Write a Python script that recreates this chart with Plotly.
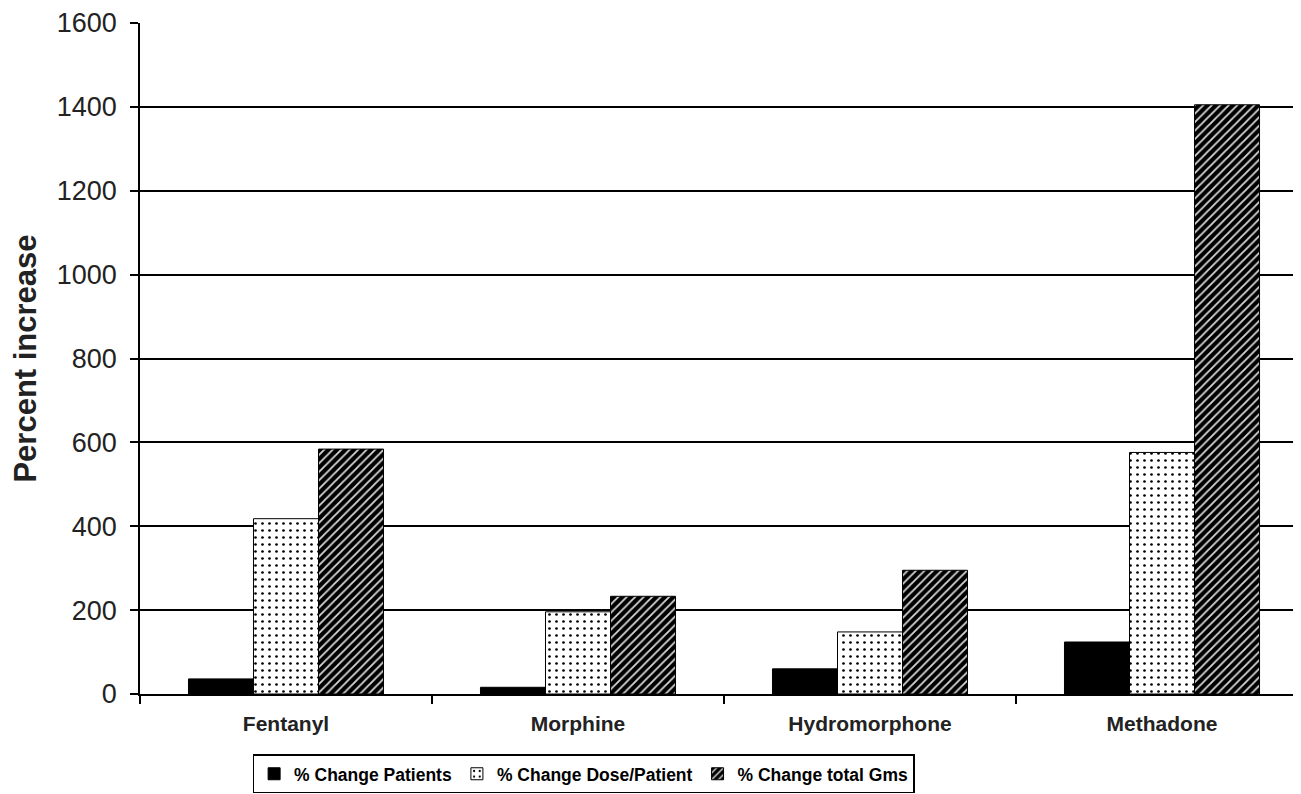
import plotly.graph_objects as go

categories = ["Fentanyl", "Morphine", "Hydromorphone", "Methadone"]
pct_change_patients = [36, 16, 60, 124]
pct_change_dose_per_patient = [418, 196, 148, 576]
pct_change_total_gms = [584, 233, 295, 1405]
y_ticks = [0, 200, 400, 600, 800, 1000, 1200, 1400, 1600]

FONT = "Liberation Sans, Arial, sans-serif"

fig = go.Figure()
fig.add_trace(go.Bar(
    name="% Change Patients", x=categories, y=pct_change_patients,
    marker=dict(color="black", line=dict(color="black", width=1)),
))
fig.add_trace(go.Bar(
    name="% Change Dose/Patient", x=categories, y=pct_change_dose_per_patient,
    marker=dict(color="white", line=dict(color="black", width=1),
                pattern=dict(shape=".", fgcolor="black", bgcolor="white",
                             size=7, solidity=0.12, fillmode="replace")),
))
fig.add_trace(go.Bar(
    name="% Change total Gms", x=categories, y=pct_change_total_gms,
    marker=dict(color="black", line=dict(color="black", width=1),
                pattern=dict(shape="/", fgcolor="#d8d8d8", bgcolor="black",
                             size=6, solidity=0.3, fillmode="replace")),
))

fig.update_layout(
    width=1301, height=794,
    margin=dict(l=132, r=8, t=15, b=108, autoexpand=False),
    paper_bgcolor="white", plot_bgcolor="white",
    barmode="group", bargap=0.332, bargroupgap=0,
    font=dict(family=FONT, color="black"),
    showlegend=True,
    legend=dict(
        orientation="h", x=0.097, xanchor="left", y=-0.09, yanchor="top",
        bordercolor="black", borderwidth=1.5, bgcolor="white",
        font=dict(family=FONT, size=17.5, color="black", weight="bold"),
        itemwidth=30, tracegroupgap=0,
    ),
    xaxis=dict(
        range=[-0.5, 3.476], showgrid=False, showline=True, linecolor="black", linewidth=1.5,
        ticks="outside", tickson="boundaries", ticklen=8, tickwidth=1.5, tickcolor="black",
        ticklabelstandoff=10,
        tickfont=dict(family=FONT, size=21, color="#222", weight="bold"),
        automargin=False, fixedrange=True,
    ),
    yaxis=dict(
        range=[0, 1600], tickvals=y_ticks, showgrid=True, gridcolor="black", gridwidth=1.5,
        showline=True, linecolor="black", linewidth=1.5, zeroline=False,
        ticks="outside", ticklen=8, tickwidth=1.5, tickcolor="black",
        ticklabelstandoff=8,
        tickfont=dict(family=FONT, size=27, color="#222"),
        automargin=False,
        title=dict(text="Percent increase", standoff=12,
                   font=dict(family=FONT, size=31, color="#222", weight="bold")),
    ),
)

fig.write_html("out.html")
